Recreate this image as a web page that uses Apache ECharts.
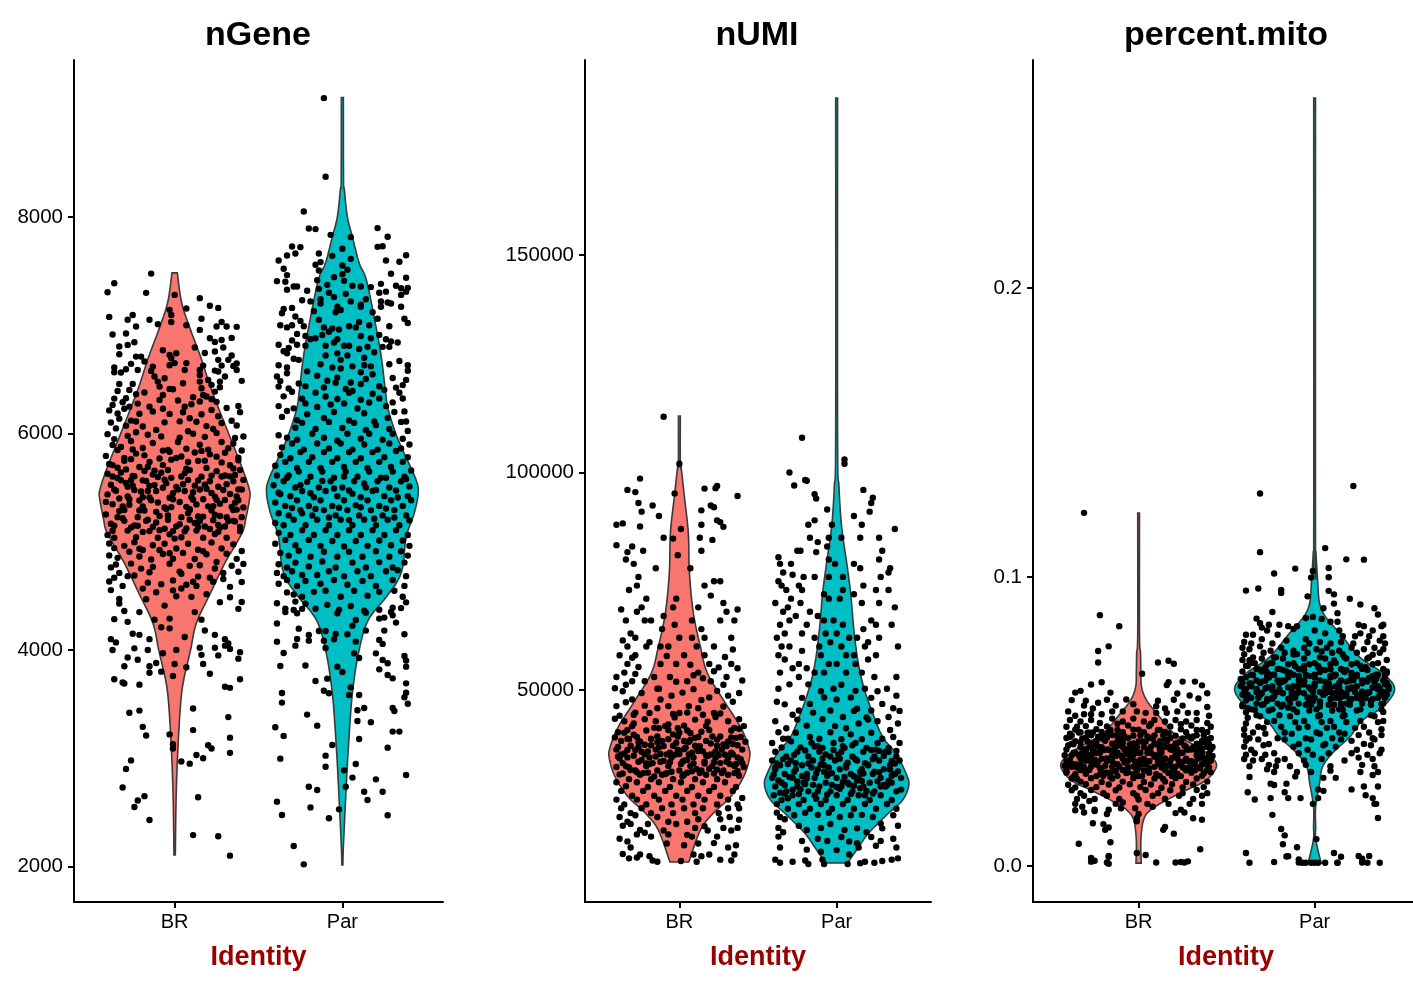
<!DOCTYPE html>
<html><head><meta charset="utf-8">
<style>html,body{margin:0;padding:0;background:#fff}#c{width:1413px;height:985px}</style>
<script src="https://cdn.jsdelivr.net/npm/echarts@6/dist/echarts.min.js"></script>
</head><body><div id="c"></div>
<script>
const categories = ['BR','Par'];
const panelTitles = ['nGene','nUMI','percent.mito'];
const nGeneTicks = [2000,4000,6000,8000];
const nUMITicks = [50000,100000,150000];
const mitoTicks = [0,0.1,0.2];

// violin outlines: [value, half width in category units]
const nGeneBRViolin = [[7484,.016],[7207,.042],[6957,.095],[6708,.155],[6403,.22],[6006,.32],[5692,.40],[5479,.446],[5387,.446],[5202,.423],[5109,.41],[4971,.363],[4804,.30],[4527,.214],[4250,.13],[4000,.095],[3723,.054],[3511,.036],[3104,.02],[2642,.009],[2106,.004]];
const nGeneParViolin = [[9103,.006],[8343,.007],[8251,.012],[8000,.03],[7816,.06],[7576,.10],[7419,.143],[7022,.196],[6708,.232],[6403,.256],[6218,.274],[5941,.333],[5590,.435],[5451,.452],[5266,.429],[5045,.381],[4713,.351],[4490,.262],[4278,.155],[4000,.10],[3603,.06],[3104,.036],[2642,.02],[2180,.006],[2014,.003]];
const nUMIBRViolin = [[112990,.006],[102190,.006],[101000,.012],[94370,.032],[86100,.057],[76900,.064],[67700,.089],[59890,.134],[53900,.178],[47700,.28],[41490,.389],[36900,.44],[34370,.446],[30000,.408],[25400,.325],[21720,.217],[17810,.134],[10460,.06]];
const nUMIParViolin = [[186100,.006],[108630,.006],[96670,.015],[87470,.032],[79200,.064],[72300,.089],[64480,.108],[56900,.134],[50690,.172],[44710,.229],[39200,.293],[35500,.376],[30920,.44],[28160,.459],[24710,.42],[21720,.331],[17120,.204],[13900,.14],[10230,.07]];
const mitoBRViolin = [[.1221,.005],[.0806,.005],[.0737,.011],[.0668,.013],[.0619,.017],[.0574,.045],[.0529,.102],[.046,.199],[.0426,.295],[.0391,.386],[.0349,.443],[.0298,.386],[.0263,.273],[.0228,.159],[.0194,.068],[.0159,.028],[.009,.013],[.001,.015]];
const mitoParViolin = [[.2657,.005],[.1118,.005],[.1069,.009],[.099,.017],[.091,.028],[.0862,.0625],[.0806,.142],[.0723,.256],[.0668,.386],[.0612,.455],[.055,.386],[.0505,.273],[.0446,.199],[.0391,.102],[.0343,.045],[.0287,.028],[.0204,.006],[.0135,.006],[.009,.007],[.001,.037]];

// jittered cells: [jitter in hundredths of a category, value]
const nGeneBRPoints = [[-14,7477],[-36,7388],[-40,7305],[-17,7299],[0,7280],[15,7250],[21,7180],[26,7160],[-3,7142],[7,7154],[-39,7077],[-25,7095],[-28,7050],[-15,7050],[-2,7095],[-2,7030],[-10,7010],[7,7000],[16,7060],[-23,6988],[28,7030],[25,6988],[31,6988],[37,6985],[15,6957],[-37,6914],[-29,6923],[34,6883],[21,6880],[24,6846],[28,6864],[-24,6843],[-33,6803],[-28,6818],[12,6794],[29,6794],[-7,6769],[1,6741],[-3,6726],[18,6744],[24,6757],[-33,6732],[-23,6710],[-20,6710],[34,6720],[32,6680],[26,6680],[-2,6695],[-18,6665],[-26,6643],[-3,6630],[0,6650],[7,6650],[17,6627],[28,6627],[35,6624],[37,6646],[-36,6609],[-36,6566],[-32,6563],[-29,6593],[-22,6587],[-13,6618],[-14,6578],[6,6587],[15,6587],[15,6541],[24,6581],[26,6572],[37,6587],[40,6486],[-12,6526],[-10,6479],[-6,6510],[-9,6433],[5,6464],[15,6479],[20,6495],[30,6526],[27,6479],[22,6449],[27,6427],[-33,6458],[-25,6458],[-34,6393],[-27,6402],[-3,6412],[-1,6408],[16,6418],[17,6356],[-18,6378],[-23,6362],[24,6387],[-7,6356],[-36,6322],[-29,6325],[-9,6310],[11,6335],[19,6341],[22,6316],[-31,6288],[-22,6276],[2,6304],[10,6270],[15,6295],[25,6292],[-37,6264],[-27,6248],[-15,6248],[6,6248],[38,6254],
[-39,6213],[-34,6184],[-30,6228],[-33,6137],[-38,6102],[-26,6119],[-21,6182],[-13,6203],[-7,6228],[-3,6181],[5,6196],[9,6141],[16,6177],[22,6218],[26,6159],[31,6236],[34,6118],[39,6197],[37,6073],[-35,6047],[-29,6072],[-23,6111],[-19,6064],[-11,6033],[-6,6103],[3,6112],[8,6021],[13,6109],[19,6068],[23,6042],[28,6097],[-40,5994],[-36,5948],[-28,5978],[-23,6012],[-16,5988],[-8,5973],[3,5962],[11,5998],[18,5969],[25,6004],[36,5958],[35,5908],[41,5972],[-37,5893],[-32,5876],[-26,5931],[-19,5866],[-13,5912],[-4,5847],[2,5921],[7,5859],[15,5896],[20,5851],[28,5921],[32,5863],[-41,5793],[-34,5847],[-30,5773],[-25,5853],[-18,5798],[-9,5769],[-3,5831],[4,5787],[12,5824],[18,5749],[21,5807],[30,5822],[38,5776],[40,5843],[-39,5718],[-34,5684],[-26,5763],[-21,5691],[-15,5737],[-7,5708],[-2,5758],[7,5674],[14,5747],[19,5682],[28,5733],[35,5677],[38,5752],[-40,5628],[-37,5603],[-29,5668],[-25,5607],[-18,5653],[-10,5598],[-4,5663],[4,5602],[9,5661],[16,5601],[25,5652],[30,5612],[39,5663],[-38,5527],[-32,5568],[-28,5508],[-19,5567],[-15,5516],[-6,5573],[1,5507],[8,5571],[12,5518],[21,5558],[26,5508],[35,5558],[41,5571],[-40,5437],[-36,5483],[-28,5418],[-24,5478],[-15,5408],[-11,5468],[-3,5406],[2,5483],[10,5412],[15,5483],[24,5417],[29,5478],[37,5418],[40,5483],[-37,5347],[-31,5327],[-27,5393],[-19,5327],[-14,5383],[-6,5317],[-1,5393],[7,5322],[11,5388],[20,5327],[25,5388],[34,5322],[38,5383],[-41,5252],[-34,5227],[-30,5293],[-22,5227],[-18,5288],[-9,5237],[-5,5303],[4,5227],[9,5293],[17,5232],[22,5288],[31,5227],[35,5293],[40,5227],[-36,5147],[-30,5193],[-26,5132],[-17,5193],[-13,5137],[-4,5203],[1,5142],[9,5203],[14,5137],[23,5198],[27,5132],[35,5193],[39,5137],[-40,5062],[-36,5037],[-28,5103],[-23,5042],[-15,5098],[-10,5037],[-1,5098],[4,5042],[13,5103],[17,5037],[26,5093],[31,5037],[39,5098],
[-24,5605],[-17,5561],[-13,5620],[-7,5498],[-1,5448],[5,5531],[11,5458],[17,5392],[23,5329],[28,5603],[33,5441],[-33,5399],[-27,5341],[-21,5289],[-16,5204],[-10,5363],[-4,5243],[3,5161],[9,5301],[14,5233],[21,5117],[27,5237],[32,5191],[37,5297],[-37,5101],[-31,5217],[-24,5150],[-19,5091],[-11,5177],[-6,5120],[0,5029],[7,5123],[12,5173],[18,5141],[24,5072],[30,5141],[36,5188],[-35,5471],[-25,5517],[-20,5464],[-12,5523],[-8,5637],[-2,5590],[6,5634],[14,5566],[22,5611],[31,5532],[36,5617],[-41,5368],[-30,5748],[-23,5814],[-16,5690],[-7,5842],[1,5773],[8,5736],[16,5839],[25,5786],[33,5707],[-32,5639],[-26,5569],[-19,5412],[-11,5276],[-2,5320],[6,5468],[13,5345],[19,5489],[26,5155],[36,5361],
[-38,5166],[-33,5283],[-29,5542],[-21,5381],[-16,5469],[-9,5107],[-5,5541],[3,5367],[8,5262],[15,5192],[22,5451],[27,5352],[33,5604],[38,5484],[-34,5589],[-22,5148],[-12,5655],[-3,5068],[6,5096],[18,5526],[24,5249],[30,5385],[41,5317],[-37,5708],
[-39,4983],[-36,4941],[-30,4962],[-24,4996],[-19,4923],[-13,4967],[-6,4982],[1,4938],[8,4981],[14,4926],[22,4994],[28,4938],[35,4976],[40,4914],[-39,4873],[-34,4851],[-27,4907],[-21,4863],[-14,4836],[-7,4887],[-1,4843],[5,4897],[12,4841],[19,4885],[25,4813],[31,4889],[37,4842],[41,4795],[-38,4763],[-33,4712],[-26,4798],[-20,4752],[-13,4768],[-3,4797],[3,4724],[9,4777],[15,4783],[24,4753],[29,4711],[34,4778],[38,4723],[-39,4633],[-36,4667],[-31,4592],[-24,4688],[-16,4622],[-8,4608],[-1,4643],[7,4602],[14,4678],[23,4631],[29,4656],[33,4583],[40,4628],[-38,4553],[-33,4472],[-19,4567],[-11,4533],[-1,4551],[1,4497],[10,4491],[19,4516],[27,4442],[33,4487],[40,4443],[-35,4790],[-28,4682],[-21,4935],[-15,4718],[-9,4923],[-3,4894],[4,4704],[11,4631],[17,4912],[21,4668],[-17,4468],[-6,4410],[4,4568],[13,4592],[-33,4430],[-36,4285],[-30,4360],[-28,4260],[-21,4350],[-12,4280],[-8,4210],[-3,4290],[-3,4200],[12,4350],[16,4280],[18,4180],[24,4140],[30,4100],[32,4060],[38,4380],[-38,4100],[-37,4000],[-35,4070],[-25,4150],[-21,4140],[-24,4015],[-15,4100],[-16,4000],[-7,3970],[1,4000],[6,4120],[16,3955],[15,4020],[24,4020],[26,3950],[30,4040],[33,4010],[38,3920],[39,3980],[-28,3930],[-30,3850],[-22,3910],[-15,3850],[-15,3790],[-11,3880],[-8,3800],[0,3870],[-1,3760],[7,3840],[17,3870],[21,3780],[30,3660],[33,3650],[39,3730],[-36,3730],[-31,3700],[-30,3690],[-21,3680],[-27,3420],[-21,3440],[-19,3290],[-17,3210],[-3,3220],[-1,3130],[-1,3090],[11,3460],[11,3260],[13,3030],[17,3000],[20,3120],[22,3090],[32,3380],[33,3190],[33,3050],[-26,2980],[-29,2900],[-31,2730],[-24,2550],[-22,2610],[-18,2650],[-15,2430],[4,2970],[9,2950],[14,2640],[11,2290],[26,2280],[33,2100]];

const nGeneParPoints = [[-11,9098],[-10,8371],[-23,8051],[-20,7894],[-16,7888],[-7,7835],[5,7814],[21,7897],[27,7817],[-30,7727],[-25,7721],[21,7724],[24,7730],[-33,7644],[-28,7663],[-14,7663],[0,7706],[-6,7641],[38,7647],[-38,7598],[26,7598],[34,7586],[5,7613],[-16,7558],[-13,7583],[0,7552],[-35,7521],[3,7512],[-14,7506],[-33,7463],[0,7472],[29,7475],[-5,7444],[38,7438],[-39,7407],[-34,7401],[-15,7416],[1,7410],[23,7382],[-29,7358],[-27,7358],[-9,7373],[6,7364],[11,7358],[17,7352],[32,7364],[35,7342],[39,7345],[-33,7327],[-21,7318],[-14,7336],[-8,7300],[22,7300],[26,7310],[35,7280],[38,7310],[-5,7260],[2,7290],[14,7240],[-24,7230],[-19,7220],[-13,7240],[-13,7200],[5,7220],[11,7190],[23,7220],[27,7210],[29,7200],[-30,7160],[-35,7150],[-17,7130],[-3,7170],[-4,7120],[-1,7140],[11,7170],[18,7120],[23,7170],[35,7170],[-36,7110],[-28,7080],[-25,7040],[-14,7050],[-6,6970],[10,7030],[16,7000],[21,7060],[37,7060],[39,7020],[-37,7000],[-33,6980],[-30,7000],[-23,6990],[-27,6920],[-11,6980],[-8,6940],[-2,6960],[4,6990],[8,6980],[28,6990],[-30,6860],[-22,6900],[-19,6870],[-16,6880],[-12,6910],[-5,6840],[-3,6870],[11,6900],[17,6880],[22,6910],[26,6870],[29,6850],[-38,6820],[-35,6760],[-32,6790],[-27,6820],[-22,6810],[-10,6810],[1,6810],[4,6810],[10,6780],[15,6800],[24,6800],[28,6800],[33,6840],[-33,6740],[-29,6690],[-10,6720],[-3,6740],[-1,6680],[3,6720],[13,6700],[19,6750],[34,6670],[-38,6630],[-33,6610],[-26,6680],[-13,6640],[-6,6610],[-1,6600],[6,6620],[13,6630],[17,6620],[28,6640],[39,6630],[39,6580],
[-39,6527],[-37,6484],[-33,6556],[-21,6574],[-15,6533],[-9,6488],[-3,6516],[5,6471],[11,6566],[14,6503],[18,6547],[30,6512],[38,6495],[-38,6433],[-32,6416],[-26,6462],[-22,6437],[-11,6425],[-4,6468],[2,6411],[6,6392],[11,6457],[22,6436],[25,6403],[32,6424],[36,6447],[-35,6343],[-30,6386],[-24,6321],[-16,6377],[-10,6342],[-3,6318],[4,6376],[11,6311],[18,6367],[22,6324],[34,6376],[36,6323],[-38,6253],[-29,6232],[-22,6278],[-15,6244],[-7,6267],[1,6278],[9,6231],[16,6286],[26,6253],[30,6287],[37,6204],[-36,6153],[-33,6208],[-27,6122],[-21,6177],[-11,6143],[-5,6198],[4,6121],[13,6187],[19,6111],[27,6143],[31,6198],[38,6111],[-28,6053],[-24,6098],[-16,6042],[-8,6107],[0,6051],[7,6098],[14,6033],[20,6077],[28,6042],[35,6107],[39,6023],[-38,5983],[-33,5961],[-27,5942],[-18,5997],[-11,5961],[-3,5933],[3,5997],[11,5951],[16,5998],[24,5942],[30,5997],[36,5951],[-36,5872],[-30,5908],[-23,5851],[-15,5908],[-8,5862],[-1,5908],[6,5851],[13,5898],[21,5851],[28,5908],[35,5862],[40,5898],[-37,5802],[-31,5771],[-25,5828],[-18,5781],[-11,5828],[-3,5771],[4,5828],[11,5771],[18,5828],[25,5781],[32,5838],[39,5781],[-40,5702],[-34,5738],[-27,5681],[-20,5738],[-13,5681],[-6,5738],[1,5691],[8,5738],[15,5681],[22,5738],[29,5691],[36,5738],[-39,5612],[-33,5591],[-26,5648],[-19,5601],[-12,5648],[-5,5591],[2,5648],[9,5601],[16,5648],[23,5591],[30,5648],[37,5601],[41,5658],[-41,5522],[-35,5558],[-28,5501],[-21,5553],[-14,5501],[-7,5558],[0,5501],[7,5558],[14,5501],[21,5558],[28,5501],[35,5558],[40,5511],[-38,5452],[-31,5421],[-24,5468],[-17,5411],[-10,5468],[-3,5421],[4,5473],[11,5411],[18,5468],[25,5421],[32,5473],[39,5421],[-40,5362],[-34,5331],[-27,5383],[-20,5331],[-13,5383],[-6,5331],[1,5383],[8,5336],[15,5383],[22,5331],[29,5383],[36,5331],[41,5383],
[-37,5441],[-32,5612],[-25,5523],[-19,5448],[-12,5562],[-5,5492],[1,5603],[6,5444],[13,5538],[20,5479],[26,5591],[33,5409],[38,5580],[-30,5311],[-24,5262],[-16,5302],[-8,5224],[-2,5314],[4,5201],[11,5318],[19,5213],[26,5307],[31,5224],[-38,5263],[-32,5243],[-25,5292],[-18,5243],[-11,5292],[-4,5243],[3,5292],[10,5243],[17,5292],[24,5243],[31,5292],[38,5243],[-40,5173],[-35,5152],[-29,5203],[-22,5152],[-15,5203],[-8,5152],[-1,5203],[6,5152],[13,5203],[20,5152],[27,5203],[34,5152],[40,5197],[-38,5082],[-31,5062],[-24,5107],[-17,5062],[-10,5107],[-3,5062],[4,5107],[11,5062],[18,5107],[25,5062],[32,5107],[39,5062],[-40,4982],[-34,5017],[-28,4967],[-20,5017],[-13,4962],[-6,5007],[1,4957],[8,5007],[15,4962],[22,5012],[29,4967],[36,5012],[40,4962],[-37,4897],[-32,4872],[-26,4917],[-19,4862],[-11,4907],[-3,4862],[4,4907],[12,4862],[20,4912],[28,4862],[35,4912],[39,4872],[-38,4792],[-33,4762],[-28,4807],[-20,4772],[-12,4817],[-4,4762],[6,4807],[14,4762],[22,4812],[30,4762],[37,4807],[-39,4712],[-35,4682],[-30,4727],[-24,4692],[-15,4692],[-8,4727],[1,4682],[9,4727],[17,4682],[26,4727],[33,4737],[38,4682],[-38,4612],[-33,4647],[-27,4592],[-22,4637],[-13,4612],[-5,4647],[3,4602],[12,4637],[20,4592],[30,4647],[37,4592],[-33,4532],[-29,4512],[-24,4492],[-17,4537],[-10,4547],[-1,4492],[7,4547],[15,4502],[22,4537],[31,4547],[36,4492],[-39,4432],[-34,4382],[-28,4447],[-22,4427],[-16,4382],[-9,4417],[-2,4372],[5,4407],[13,4362],[22,4372],[29,4352],[35,4387],
[-23,2020],[-29,2189],[27,2473],[-36,2476],[-8,2445],[-2,2528],[-19,2546],[-39,2599],[15,2614],[13,2691],[24,2691],[-15,2707],[-20,2737],[2,2737],[20,2805],[6,2821],[38,2845],[1,2888],[-10,2922],[8,2947],[-10,3024],[-37,2996],[27,3098],[-6,3122],[-35,3206],[10,3178],[-40,3286],[-15,3301],[17,3332],[9,3344],[30,3246],[34,3246],[-21,3403],[9,3443],[13,3464],[30,3464],[31,3437],[-36,3603],[-36,3514],[39,3504],[10,3584],[37,3563],[38,3606],[-8,3600],[-11,3624],[4,3584],[5,3655],[38,3692],[-16,3714],[-9,3735],[30,3738],[27,3769],[22,3821],[0,3797],[-3,3846],[-37,3852],[-22,3856],[27,3877],[38,3846],[38,3902],[37,3945],[24,3908],[10,3926],[7,3969],[20,3969],[-35,3972],[-10,4019],[-28,4040],[-39,4077],[8,4077],[24,4056],[22,4093],[-20,4086],[-27,4102],[-11,4086],[-5,4099],[-20,4139],[-4,4148],[3,4145],[37,4145],[-14,4176],[-10,4176],[14,4179],[25,4179],[-26,4197],[-39,4244],[32,4253],[6,4225],[8,4277],[25,4299],[22,4290],[30,4320],[-34,4350],[-29,4370],[-24,4380],[-27,4340],[-3,4340],[14,4345],[30,4390],[38,4440]];

const nUMIBRPoints = [[-10,112800],[0,102000],[-25,98600],[-33,96000],[-28,95500],[-3,95200],[16,96300],[24,96900],[23,96400],[37,94600],[-26,93000],[-24,91000],[-17,92400],[-13,90000],[14,91300],[20,92400],[22,92000],[-40,88000],[-36,88300],[-25,87600],[14,88000],[24,89000],[26,88600],[28,87500],[-10,85000],[1,87000],[-40,83300],[-30,83000],[-33,81700],[-23,82000],[-4,84800],[13,85000],[14,82000],[21,84500],[-1,81000],[-15,78000],[-29,79000],[-26,76000],[-34,80000],[-27,74000],[-32,73000],[7,78000],[22,75000],[26,75000],[-2,71000],[16,74000],[-24,69000],[-21,71000],[28,70000],[20,71700],[-37,68500],[-27,68000],[-10,67000],[-4,69000],[12,69000],[30,68000],[37,68500],[-34,66000],[-31,63000],[-22,66000],[-18,66000],[-11,64000],[-3,65000],[8,66000],[14,64000],[26,66000],[35,66000],[-33,60000],[-28,62000],[-19,61000],[-12,60000],[-7,60000],[0,62000],[8,62000],[16,62000],[22,60000],[33,62000],[-38,58000],[-33,56000],[-28,58000],[-21,60000],[-12,56000],[-2,56000],[3,58000],[11,60000],[16,58000],[19,56000],[33,56000],[-40,53000],[-35,54000],[-30,52000],[-22,52000],[-16,53000],[-6,53000],[5,52000],[12,54000],[20,52000],[30,53000],[37,55000],[-36,61400],[-30,57400],[-26,55300],[-8,57800],[7,55800],[15,52700],[25,55200],[29,57600],[34,59300],[-34,51200],[-28,53700],[-14,50300],[-2,51900],[9,53400],[22,54300],[28,51200],[40,52200],
[-41,50400],[-36,49700],[-30,47800],[-24,49300],[-13,50300],[-5,48700],[2,49400],[9,50200],[14,47700],[19,48300],[24,49800],[31,48700],[38,49300],[-40,46300],[-34,47200],[-28,44800],[-22,46400],[-14,45800],[-7,46300],[0,44700],[6,46300],[12,45800],[22,44700],[28,46200],[34,47300],[-41,43400],[-35,42800],[-29,42300],[-22,43300],[-15,42800],[-9,41700],[-3,43700],[3,41800],[10,43200],[17,41700],[23,43800],[31,42800],[38,43300],[41,41700],[-39,40300],[-33,40800],[-27,39200],[-21,40700],[-14,39300],[-7,40800],[-1,39300],[5,40700],[12,39200],[19,40800],[26,39300],[33,40700],[39,39200],[-37,38300],[-31,37200],[-25,38200],[-18,37300],[-11,38300],[-4,37200],[3,38300],[10,37200],[17,38300],[24,37200],[31,38200],[37,37300],[42,38100],[-40,36300],[-35,35400],[-28,36200],[-22,35200],[-15,36300],[-8,35200],[-1,36300],[6,35200],[13,36300],[20,35200],[27,36300],[34,35200],[40,36300],[-38,34300],[-33,34500],[-26,33500],[-19,34500],[-12,33500],[-5,34500],[2,33500],[9,34500],[16,33500],[23,34500],[30,33500],[37,34500],[-40,32300],[-34,32500],[-28,31500],[-21,32500],[-14,31500],[-7,32500],[0,31500],[7,32500],[14,31500],[21,32500],[28,31500],[35,32500],[41,32300],[-38,30600],[-32,29500],[-25,30500],[-18,29500],[-11,30500],[-4,29500],[3,30500],[10,29500],[17,30500],[24,29500],[31,30500],[38,30300],[-40,28800],[-34,27900],[-27,28800],[-20,27700],[-13,28800],[-6,27700],[1,28800],[8,27700],[15,28800],[22,27700],[29,28800],[36,27700],[-37,26800],[-30,25700],[-23,26800],[-16,25700],[-9,26800],[-2,25700],[5,26800],[12,25700],[19,26800],[26,25700],[34,26800],[40,25200],
[-38,44100],[-32,38700],[-26,36900],[-21,33100],[-16,41300],[-10,37100],[-6,33400],[-1,41200],[4,36800],[9,33100],[14,40400],[20,37700],[26,33200],[33,39100],[39,34100],[-36,30800],[-29,34900],[-23,30900],[-15,34700],[-9,30700],[-3,35100],[2,30200],[8,35600],[13,30900],[18,34800],[22,30800],[29,35100],[35,30900],[-33,38800],[-24,35800],[-17,33200],[-7,38700],[1,33000],[7,38600],[16,33100],[24,38600],[32,33000],[-39,36900],[-31,31600],[-20,31000],[-13,36800],[-5,31200],[5,31000],[11,36800],[22,33400],[36,33000],[-35,40200],[-29,44300],[-19,44700],[-12,47800],[-4,44500],[5,44800],[15,44300],[26,44600],[35,41300],
[-37,35200],[-30,41700],[-24,33900],[-18,38800],[-12,35300],[-7,42100],[-2,37900],[3,33800],[7,40100],[12,36000],[18,42700],[23,35900],[28,37500],[34,37600],[40,33200],[-41,39100],[-33,36200],[-27,31100],[-20,35900],[-14,38000],[-8,30900],[0,35300],[6,38100],[11,31800],[15,35900],[21,39300],[27,30900],[33,35600],[38,41100],[-36,33200],[-29,39700],[-22,37400],[-16,30100],[-10,33700],[-4,39800],[3,36400],[8,31300],[13,37100],[19,31900],[25,35000],[30,37100],[37,31400],[-39,34700],[-32,32200],[-26,38000],[-19,33000],[-13,41200],[-6,35600],[0,40200],[5,33900],[10,39000],[17,35000],[24,31700],[31,34400],[36,39000],
[-40,24800],[-35,23700],[-27,24800],[-21,23700],[-13,24800],[-5,23700],[2,24800],[9,23700],[16,24800],[24,23700],[31,24800],[37,23700],[-37,22800],[-31,21700],[-24,22800],[-18,21700],[-11,22800],[-4,21700],[3,22800],[10,21700],[15,22800],[25,21700],[31,22800],[38,22800],[-38,20800],[-33,19700],[-28,21200],[-20,19200],[-14,20800],[-7,19700],[-2,19200],[5,19700],[12,20300],[16,18700],[26,20300],[32,20800],[38,20200],[-36,18800],[-31,19200],[-25,17800],[-22,17200],[-10,17700],[-7,16800],[5,16700],[10,18300],[18,17700],[28,18300],[33,17700],[37,18300],[-38,15800],[-33,15200],[-27,16800],[-18,16300],[-8,14700],[3,14300],[8,16300],[12,14700],[22,14800],[24,16300],[31,13800],[36,14300],[-36,12300],[-31,13800],[-27,11500],[-32,11300],[-25,12200],[-19,11800],[-17,10800],[-14,10500],[1,10700],[9,12200],[11,10500],[14,11800],[19,12200],[26,11000],[33,10800],[35,12200]];

const nUMIParPoints = [[-22,108000],[5,102000],[5,103000],[-30,100000],[-20,98300],[-19,98100],[-27,97000],[-14,95000],[17,96000],[-13,94000],[23,94200],[22,93000],[21,91000],[-6,91500],[-14,89000],[11,90000],[-18,88000],[-17,85000],[15,85000],[16,88000],[27,85000],[37,87000],[-3,88000],[-5,85000],[-12,84000],[-6,83000],[3,85000],[-25,82000],[-13,81700],[29,82000],[-37,80500],[-23,82000],[-36,79000],[-34,77000],[-29,79000],[-5,80000],[-1,79000],[11,79000],[15,78000],[27,80000],[34,78000],[-28,76500],[-37,75000],[-21,76000],[-14,76000],[-5,76000],[4,76000],[4,73000],[28,76000],[33,77000],[-35,74000],[-32,73000],[-24,74000],[-29,71000],[-22,73000],[-8,72000],[2,71000],[17,74000],[25,73000],[33,73000],[-39,70000],[-34,68000],[-31,69000],[-23,70000],[-17,68000],[-12,67000],[-5,71000],[11,72000],[16,70000],[27,70000],[37,69000],[-36,65000],[-30,66000],[-26,67000],[-19,65000],[-8,66000],[-2,66000],[4,65000],[17,64000],[22,66000],[25,65000],[35,65000],[-38,62000],[-33,63000],[-22,63000],[-14,62000],[-7,63000],[0,63000],[8,62000],[13,62000],[20,61000],[27,62000],[-37,58000],[-35,60000],[-30,60000],[-22,59000],[-11,60000],[-4,61000],[3,60000],[11,58000],[18,60000],[25,58000],[39,60000],[-33,57000],[-24,56000],[-19,55000],[-10,58000],[-5,56000],[6,58000],[12,56000],[20,57000],[-36,54000],[-28,55000],[-24,53000],[-14,54000],[-8,54000],[0,56000],[6,54000],[16,54000],[24,53000],[38,53000],
[-37,50300],[-30,51300],[-18,51300],[-10,49700],[-2,50300],[3,51200],[12,49800],[18,50300],[26,49700],[32,50300],[38,48700],[-38,47300],[-33,46700],[-22,48200],[-17,46800],[-8,48300],[0,47800],[9,48300],[13,45700],[22,48200],[29,46800],[36,45800],[-28,44300],[-24,45300],[-15,44800],[-4,45300],[4,43800],[11,45200],[19,43700],[22,45300],[33,43800],[40,45200],[-39,42800],[-32,41200],[-25,43200],[-19,41800],[-9,43300],[-1,41700],[6,41200],[14,42300],[20,43200],[26,42800],[34,40800],[39,42300],[-37,40300],[-31,38800],[-26,40200],[-17,39200],[-11,38800],[-4,40300],[3,38700],[9,39800],[16,38700],[22,40200],[29,38800],[36,39200],[-41,37800],[-35,36800],[-29,38200],[-23,36800],[-16,37800],[-9,36700],[-2,37800],[5,36700],[12,37800],[19,36700],[26,37800],[33,36700],[40,37800],[-39,35800],[-32,34700],[-25,35800],[-18,34700],[-11,35800],[-4,34700],[3,35800],[10,34700],[17,35800],[24,34700],[31,35800],[38,34700],[-41,33800],[-36,32700],[-29,33800],[-22,32700],[-15,33800],[-8,32700],[-1,33800],[6,32700],[13,33800],[20,32700],[27,33800],[34,32700],[40,33800],[-39,31800],[-33,30700],[-26,31800],[-19,30700],[-12,31800],[-5,30700],[2,31800],[9,30700],[16,31800],[23,30700],[30,31800],[37,30700],[-41,29800],[-35,28700],[-28,29800],[-21,28700],[-14,29800],[-7,28700],[0,29800],[7,28700],[14,29800],[21,28700],[28,29800],[35,28700],[41,29800],[-39,27800],[-32,26700],[-25,27800],[-18,26700],[-11,27800],[-4,26700],[3,27800],[10,26700],[17,27800],[24,26700],[31,27800],[38,26700],[-40,25800],[-35,24700],[-28,25800],[-21,24700],[-14,25800],[-7,24700],[0,25800],[7,24700],[14,25800],[21,24700],[28,25800],[35,24700],[-38,23800],[-31,22700],[-24,23800],[-17,22700],[-10,23800],[-3,22700],[4,23800],[11,22700],[18,23800],[25,22700],[32,23800],[38,22700],
[-38,33100],[-33,28100],[-27,31200],[-20,36100],[-13,30800],[-6,26000],[2,34200],[8,28300],[15,31200],[22,36200],[27,31100],[32,28100],[39,31300],[-36,26400],[-30,30000],[-23,27200],[-16,32200],[-9,34200],[-3,28200],[5,30000],[12,34100],[19,26800],[26,29000],[33,35800],[-34,38800],[-26,33200],[-20,28400],[-12,37100],[-5,32200],[4,37100],[11,30200],[18,33200],[25,36300],[35,30300],[-31,25100],[-24,26100],[-13,25000],[-6,30300],[1,35100],[9,26100],[16,29100],[23,26200],[30,34900],[37,33100],
[-40,30600],[-34,34100],[-28,27100],[-22,30200],[-15,28200],[-10,32900],[-3,30900],[2,27300],[7,33300],[13,29200],[18,25800],[24,31200],[30,28200],[35,33700],[41,27100],[-37,29200],[-31,33000],[-25,29000],[-18,33100],[-12,26700],[-7,35200],[0,27700],[6,32200],[11,28000],[17,30800],[23,34100],[28,27800],[34,31700],[-39,32200],[-33,26200],[-27,35100],[-19,29700],[-14,37000],[-8,31200],[-2,36200],[4,28900],[10,37300],[15,27400],[20,32800],[27,36000],[33,29100],[38,36000],
[-38,21800],[-36,20800],[-33,20300],[-27,21200],[-20,21800],[-12,21300],[-5,21800],[2,20800],[9,21200],[16,21300],[23,20800],[28,19300],[36,21200],[-37,18300],[-34,17300],[-24,18800],[-19,17800],[-10,18300],[-4,19200],[5,17800],[13,18200],[19,17300],[29,18200],[39,18800],[-37,16300],[-22,15300],[-12,15800],[-6,15300],[3,16200],[8,15200],[13,14800],[22,16200],[28,15300],[36,15800],[-36,13800],[-19,13300],[-10,12800],[0,13200],[8,12200],[14,13800],[25,14200],[38,13800],[-39,11000],[-36,10300],[-28,10500],[-20,10800],[-18,10000],[-9,11000],[-8,10000],[7,10000],[15,10200],[18,10500],[24,10300],[29,10700],[35,11000],[39,11300]];

const mitoBRPoints = [[-31,.1222],[-22,.0868],[-11,.083],[-23,.0744],[-17,.076],[-23,.0704],[11,.0704],[17,.071],[20,.07],[2,.0665],[-27,.0628],[-21,.0636],[16,.0626],[17,.0636],[25,.0638],[32,.0638],[36,.0625],[-33,.0606],[-36,.06],[-16,.06],[22,.0597],[39,.0598],[29,.059],[-38,.0574],[-30,.0572],[-23,.0565],[-18,.0575],[-7,.0576],[11,.0572],[20,.0575],[34,.058],[-31,.0555],[-26,.0545],[-13,.0555],[-3,.056],[10,.0553],[15,.0545],[25,.0555],[39,.055],[-40,.0535],[-36,.052],[-31,.0525],[-27,.0525],[-21,.0525],[-15,.0535],[-9,.0535],[-1,.0535],[4,.053],[10,.053],[16,.053],[22,.0535],[28,.053],[33,.053],[40,.052],[-39,.0505],[-33,.05],[-27,.0505],[-22,.0495],[-15,.051],[-9,.05],[-3,.051],[3,.05],[9,.0505],[15,.05],[21,.0505],[27,.05],[33,.0505],[39,.0495],[-41,.0482],[-36,.0472],[-30,.0484],[-24,.0473],[-18,.0483],[-12,.0471],[-6,.0486],[0,.0472],[6,.0484],[12,.0471],[18,.0483],[24,.0473],[30,.0486],[36,.0471],[41,.0482],
[-39,.0458],[-33,.0463],[-27,.0452],[-21,.0464],[-15,.0453],[-9,.0463],[-3,.0451],[3,.0463],[9,.0452],[15,.0464],[21,.0451],[27,.0463],[33,.0452],[39,.0464],[-41,.0443],[-36,.0432],[-30,.0444],[-24,.0431],[-18,.0444],[-12,.0433],[-6,.0443],[0,.0431],[6,.0444],[12,.0432],[18,.0443],[24,.0431],[30,.0444],[36,.0433],[41,.0443],[-38,.0423],[-33,.0412],[-27,.0424],[-21,.0411],[-15,.0423],[-9,.0412],[-3,.0424],[3,.0411],[9,.0423],[15,.0412],[21,.0424],[27,.0411],[33,.0423],[39,.0412],[-41,.0403],[-36,.0392],[-30,.0404],[-24,.0391],[-18,.0403],[-12,.0392],[-6,.0404],[0,.0391],[6,.0403],[12,.0392],[18,.0404],[24,.0391],[30,.0403],[36,.0392],[41,.0404],[-38,.0383],[-33,.0372],[-27,.0384],[-21,.0371],[-15,.0383],[-9,.0372],[-3,.0384],[3,.0371],[9,.0383],[15,.0372],[21,.0384],[27,.0371],[33,.0383],[39,.0372],[-41,.0363],[-36,.0352],[-30,.0364],[-24,.0351],[-18,.0363],[-12,.0352],[-6,.0364],[0,.0351],[6,.0363],[12,.0352],[18,.0364],[24,.0351],[30,.0363],[36,.0352],[41,.0364],[-38,.0343],[-33,.0332],[-27,.0344],[-21,.0331],[-15,.0343],[-9,.0332],[-3,.0344],[3,.0331],[9,.0343],[15,.0332],[21,.0344],[27,.0331],[33,.0343],[39,.0332],[-41,.0323],[-36,.0312],[-30,.0324],[-24,.0311],[-18,.0323],[-12,.0312],[-6,.0324],[0,.0311],[6,.0323],[12,.0312],[18,.0324],[24,.0311],[30,.0323],[36,.0312],[41,.0324],[-38,.0303],[-33,.0292],[-27,.0304],[-21,.0291],[-15,.0303],[-9,.0292],[-3,.0304],[3,.0291],[9,.0303],[15,.0292],[21,.0304],[27,.0291],[33,.0303],[39,.0292],
[-39,.0447],[-34,.0383],[-28,.0412],[-23,.0361],[-19,.0433],[-13,.0381],[-7,.0322],[-1,.0412],[4,.0353],[10,.0421],[14,.0301],[19,.0374],[25,.0342],[31,.0411],[37,.0374],[40,.0422],[-40,.0351],[-35,.0301],[-29,.0374],[-25,.0422],[-20,.0312],[-14,.0352],[-8,.0402],[-2,.0362],[2,.0312],[7,.0391],[13,.0341],[16,.0431],[23,.0362],[28,.0402],[32,.0331],[38,.0354],[-37,.0392],[-31,.0342],[-26,.0462],[-22,.0392],[-16,.0323],[-10,.0441],[-4,.0372],[1,.0452],[5,.0392],[11,.0362],[17,.0322],[22,.0403],[26,.0363],[34,.0401],[42,.0381],[-42,.0383],[-37,.0352],[-32,.0441],[-28,.0332],[-17,.0402],[-11,.0343],[-5,.0421],[-1,.0331],[8,.0441],[13,.0393],[20,.0332],[29,.0341],[35,.0422],[40,.0342],[-38,.0452],[-30,.0393],[-23,.0413],[-16,.0471],[-10,.0382],[-3,.0472],[4,.0431],[11,.0471],[18,.0412],[25,.0441],[33,.0471],[-35,.0482],[-29,.0461],[-20,.0452],[-12,.0492],[-6,.0401],[7,.0492],[14,.0452],[24,.0491],[30,.0441],[37,.0452],
[-40,.0417],[-35,.0341],[-31,.0373],[-26,.0401],[-22,.0339],[-18,.0372],[-13,.0413],[-8,.0358],[-4,.0402],[1,.0368],[5,.0329],[10,.0381],[13,.0417],[18,.0347],[22,.0373],[26,.0417],[30,.0351],[35,.0378],[39,.0352],[42,.0412],[-42,.0347],[-37,.0421],[-33,.0352],[-29,.0431],[-24,.0361],[-20,.0401],[-15,.0363],[-11,.0418],[-6,.0342],[-2,.0391],[3,.0352],[7,.0412],[12,.0378],[16,.0348],[21,.0418],[25,.0392],[29,.0361],[34,.0372],[38,.0428],[-39,.0367],[-34,.0462],[-30,.0319],[-25,.0368],[-21,.0442],[-16,.0308],[-12,.0451],[-7,.0388],[-3,.0318],[2,.0431],[6,.0362],[10,.0318],[15,.0438],[19,.0402],[24,.0351],[28,.0448],[33,.0398],[37,.0321],[41,.0372],[-36,.0318],[-32,.0392],[-27,.0362],[-23,.0447],[-19,.0347],[-14,.0402],[-9,.0428],[-5,.0383],[0,.0342],[5,.0448],[9,.0378],[14,.0359],[19,.0311],[23,.0428],[27,.0339],[32,.0361],[36,.0408],[40,.0389],[-41,.0331],[-37,.0308],[-33,.0428],[-28,.0461],[-22,.0318],[-17,.0462],[-13,.0328],[-8,.0448],[-3,.0403],[1,.0392],[6,.0338],[12,.0408],[17,.0459],[22,.0319],[26,.0338],[31,.0448],[35,.0338],[39,.0438],
[-40,.0281],[-36,.0272],[-30,.0283],[-24,.0273],[-17,.0282],[-11,.0272],[-5,.0283],[1,.0273],[7,.0282],[13,.0271],[19,.0283],[25,.0272],[31,.0282],[37,.0273],[-38,.0262],[-33,.0252],[-27,.0263],[-20,.0252],[-13,.0262],[-3,.0252],[4,.0263],[11,.0252],[18,.0262],[25,.0252],[33,.0263],[39,.0252],[-35,.0232],[-31,.0243],[-25,.0232],[-18,.0243],[-11,.0232],[-1,.0243],[0,.023],[8,.0243],[15,.0232],[23,.0243],[31,.0232],[36,.0243],[-36,.0215],[-32,.0205],[-28,.0225],[-25,.0195],[-13,.0215],[-17,.0195],[-9,.022],[-2,.02],[8,.0205],[5,.0215],[17,.0215],[24,.0195],[29,.0215],[36,.0215],
[-36,.0193],[-31,.0185],[-25,.019],[-18,.018],[-10,.02],[0,.018],[-1,.0155],[-1,.0165],[21,.0183],[26,.0185],[31,.0165],[36,.016],[-26,.0148],[-20,.0145],[-19,.0125],[-17,.0133],[14,.0125],[15,.0135],[20,.0112],[-34,.0077],[-16,.0082],[-1,.0045],[4,.0038],[-27,.0028],[-17,.0035],[-27,.0015],[-25,.0018],[-18,.0012],[-17,.0032],[-17,.0008],[10,.0012],[21,.0012],[26,.0012],[28,.0016],[24,.0014],[35,.0058]];

const mitoParPoints = [[-31,.1289],[22,.1315],[-31,.1086],[6,.11],[18,.1061],[28,.106],[-11,.1029],[-1,.1021],[-2,.0998],[8,.1031],[8,.0999],[-23,.1012],[-19,.0955],[-39,.0953],[-32,.096],[-19,.0945],[8,.0952],[11,.094],[-4,.0933],[26,.0905],[11,.0908],[20,.0925],[-24,.0879],[34,.0892],[36,.087],[-33,.0856],[-31,.084],[5,.0892],[13,.0875],[13,.0845],[-5,.0858],[-1,.0862],[4,.0855],[9,.0845],[39,.0835],[-30,.0825],[-26,.0835],[-20,.0835],[-15,.083],[-10,.083],[14,.0815],[25,.0835],[28,.083],[33,.0815],[38,.083],[-39,.08],[-35,.08],[-27,.0815],[-21,.08],[-12,.082],[0,.0815],[6,.0805],[16,.0795],[23,.0795],[26,.0805],[31,.0795],[39,.0795],[-40,.0775],[-36,.077],[-30,.0785],[-24,.077],[-16,.078],[-5,.0785],[-3,.077],[3,.0775],[9,.077],[15,.0775],[22,.077],[30,.0775],[37,.078],[40,.077],[-41,.0755],[-37,.075],[-31,.076],[-25,.0745],[-19,.0755],[-12,.0745],[-6,.0755],[1,.075],[7,.0755],[14,.0745],[21,.0755],[28,.075],[34,.0755],[39,.075],[-40,.0733],[-35,.0722],[-29,.0738],[-23,.0722],[-17,.0738],[-10,.0733],[-4,.0738],[3,.0722],[10,.0738],[17,.0722],[24,.0738],[31,.0722],[37,.0738],
[-41,.0713],[-36,.0702],[-30,.0718],[-24,.0702],[-18,.0718],[-12,.0702],[-6,.0718],[0,.0702],[6,.0718],[12,.0702],[18,.0718],[24,.0702],[30,.0718],[36,.0702],[41,.0713],[-39,.0693],[-33,.0682],[-27,.0698],[-21,.0682],[-15,.0698],[-9,.0682],[-3,.0698],[3,.0682],[9,.0698],[15,.0682],[21,.0698],[27,.0682],[33,.0698],[39,.0682],[-41,.0673],[-36,.0662],[-30,.0678],[-24,.0662],[-18,.0678],[-12,.0662],[-6,.0678],[0,.0662],[6,.0678],[12,.0662],[18,.0678],[24,.0662],[30,.0678],[36,.0662],[41,.0673],[-39,.0653],[-33,.0642],[-27,.0658],[-21,.0642],[-15,.0658],[-9,.0642],[-3,.0658],[3,.0642],[9,.0658],[15,.0642],[21,.0658],[27,.0642],[33,.0658],[39,.0642],[-41,.0633],[-36,.0622],[-30,.0638],[-24,.0622],[-18,.0638],[-12,.0622],[-6,.0638],[0,.0622],[6,.0638],[12,.0622],[18,.0638],[24,.0622],[30,.0638],[36,.0622],[41,.0633],[-39,.0613],[-33,.0602],[-27,.0618],[-21,.0602],[-15,.0618],[-9,.0602],[-3,.0618],[3,.0602],[9,.0618],[15,.0602],[21,.0618],[27,.0602],[33,.0618],[39,.0602],[-41,.0593],[-36,.0582],[-30,.0598],[-24,.0582],[-18,.0598],[-12,.0582],[-6,.0598],[0,.0582],[6,.0598],[12,.0582],[18,.0598],[24,.0582],[30,.0598],[36,.0582],[41,.0593],[-39,.0573],[-33,.0562],[-27,.0578],[-21,.0562],[-15,.0578],[-9,.0562],[-3,.0578],[3,.0562],[9,.0578],[15,.0562],[21,.0578],[27,.0562],[33,.0578],[39,.0562],[-41,.0553],[-36,.0542],[-30,.0558],[-24,.0542],[-18,.0558],[-12,.0542],[-5,.0558],[1,.0542],[8,.0558],[14,.0542],[20,.0558],[26,.0542],[32,.0558],[38,.0542],
[-38,.0692],[-31,.0633],[-26,.0652],[-22,.0601],[-16,.0673],[-10,.0621],[-4,.0562],[0,.0652],[5,.0593],[11,.0661],[16,.0541],[19,.0614],[25,.0582],[31,.0651],[37,.0614],[40,.0662],[-40,.0591],[-34,.0541],[-28,.0614],[-23,.0662],[-19,.0552],[-13,.0592],[-7,.0642],[-1,.0602],[3,.0552],[8,.0631],[14,.0581],[17,.0671],[23,.0602],[28,.0642],[32,.0571],[38,.0594],[-37,.0632],[-32,.0582],[-25,.0702],[-20,.0632],[-14,.0563],[-8,.0681],[-2,.0612],[2,.0692],[7,.0632],[13,.0602],[18,.0562],[22,.0643],[27,.0603],[34,.0641],[42,.0621],[-42,.0623],[-38,.0592],[-32,.0681],[-27,.0572],[-17,.0642],[-11,.0583],[-5,.0661],[-1,.0571],[9,.0681],[14,.0633],[20,.0572],[29,.0581],[35,.0662],[40,.0582],[-37,.0712],[-30,.0673],[-22,.0722],[-12,.0732],[-6,.0692],[4,.0742],[11,.0712],[16,.0732],[26,.0692],[33,.0731],
[-42,.0647],[-37,.0581],[-33,.0613],[-28,.0641],[-24,.0579],[-20,.0612],[-15,.0653],[-10,.0598],[-6,.0642],[-1,.0608],[3,.0569],[8,.0621],[11,.0657],[16,.0587],[20,.0613],[24,.0657],[28,.0591],[33,.0618],[37,.0592],[40,.0652],[-40,.0607],[-35,.0661],[-31,.0592],[-27,.0671],[-22,.0601],[-18,.0641],[-13,.0603],[-9,.0658],[-4,.0582],[0,.0631],[5,.0592],[9,.0652],[14,.0618],[18,.0588],[23,.0658],[27,.0632],[31,.0601],[36,.0612],[41,.0668],[-38,.0547],[-34,.0702],[-29,.0559],[-24,.0608],[-20,.0682],[-15,.0548],[-11,.0691],[-6,.0628],[-2,.0558],[3,.0671],[7,.0602],[11,.0558],[16,.0678],[20,.0642],[25,.0591],[29,.0688],[34,.0638],[38,.0561],[42,.0612],[-41,.0558],[-36,.0632],[-32,.0602],[-28,.0687],[-23,.0587],[-19,.0642],[-14,.0668],[-9,.0623],[-3,.0582],[2,.0688],[6,.0618],[10,.0599],[15,.0551],[21,.0668],[26,.0579],[30,.0601],[35,.0648],[40,.0629],
[-39,.0532],[-33,.0522],[-26,.0538],[-20,.0522],[-10,.0533],[-3,.0538],[3,.0522],[10,.0538],[17,.0522],[24,.0538],[32,.0522],[39,.0533],[-38,.0513],[-31,.0518],[-23,.0502],[-14,.0518],[-6,.0502],[2,.0518],[9,.0502],[16,.0518],[26,.0502],[34,.0518],[39,.0502],[-39,.0493],[-32,.0482],[-27,.0498],[-19,.0482],[-11,.0498],[-4,.0482],[4,.0498],[11,.0482],[18,.0498],[28,.0482],[36,.0498],[-40,.0473],[-35,.0462],[-29,.0478],[-17,.0462],[-9,.0478],[1,.0462],[7,.0478],[14,.0462],[23,.0478],[31,.0462],[38,.0473],[-40,.0453],[-37,.0442],[-28,.0458],[-21,.0442],[-13,.0458],[-5,.0442],[3,.0458],[10,.0442],[17,.0458],[25,.0453],[33,.0442],[38,.0453],[-39,.0433],[-32,.0438],[-26,.0422],[-17,.0438],[-9,.0422],[-2,.0438],[6,.0422],[15,.0438],[21,.0433],[28,.0422],[34,.0438],[-40,.0413],[-36,.0402],[-29,.0418],[-12,.0413],[-4,.0402],[5,.0418],[12,.0413],[24,.0402],[32,.0418],[38,.0402],[-39,.0385],[-34,.039],[-28,.0385],[-23,.039],[-9,.039],[-1,.0385],[8,.039],[21,.039],[30,.0385],[37,.039],[-40,.037],[-35,.0365],[-30,.037],[-21,.0365],[-17,.037],[-6,.0365],[4,.037],[17,.0365],[25,.0375],[33,.037],[-37,.0345],[-26,.035],[-22,.0345],[-14,.0345],[-5,.035],[9,.0345],[27,.035],[34,.0345],[-37,.0308],[-27,.0335],[-23,.0325],[-10,.0325],[-2,.0325],[9,.033],[26,.0325],[33,.0315],[36,.0325],[-25,.0285],[-23,.028],[-16,.0285],[-11,.031],[5,.0305],[12,.0305],[21,.0265],[28,.0275],[36,.0275],[-38,.0255],[-34,.023],[-25,.0235],[-17,.0255],[-15,.0235],[-8,.0235],[2,.0265],[5,.026],[-1,.0215],[2,.0235],[29,.0245],[34,.0215],[33,.0235],[35,.0215],
[-24,.0177],[36,.0166],[-19,.0128],[-17,.0106],[-18,.0075],[-10,.0065],[1,.0093],[11,.0045],[-39,.0045],[-37,.0011],[-23,.0014],[-16,.0033],[-15,.0034],[-9,.0023],[-9,.0012],[-7,.0011],[-5,.0011],[-2,.0011],[0,.0011],[2,.0011],[6,.0011],[13,.0011],[15,.0032],[13,.0011],[25,.0035],[27,.0025],[27,.0012],[30,.0011],[31,.0035],[37,.0011]];

const panels = [
 {left:74,width:369,xMax:2.6,ticks:nGeneTicks,min:1672,max:9450,violins:[nGeneBRViolin,nGeneParViolin],points:[nGeneBRPoints,nGeneParPoints],fmt:v=>String(v),mid:258,namePad:0},
 {left:585,width:346,xMax:2.6,ticks:nUMITicks,min:1264,max:194828,violins:[nUMIBRViolin,nUMIParViolin],points:[nUMIBRPoints,nUMIParPoints],fmt:v=>String(v),mid:757,namePad:0},
 {left:1033,width:380,xMax:2.559,ticks:mitoTicks,min:-0.01246,max:0.2789,violins:[mitoBRViolin,mitoParViolin],points:[mitoBRPoints,mitoParPoints],fmt:v=>v.toFixed(1),mid:1226,namePad:6}
];
const colors = ['#F8766D','#00BFC4'];
const FONT = '"Liberation Sans", Helvetica, Arial, sans-serif';

// Catmull-Rom path smoothing of one side of an outline, in screen space
function smoothSide(pts){
  const out=[];
  for(let i=0;i<pts.length-1;i++){
    const p0=pts[Math.max(i-1,0)],p1=pts[i],p2=pts[i+1],p3=pts[Math.min(i+2,pts.length-1)];
    for(let k=0;k<8;k++){
      const t=k/8,t2=t*t,t3=t2*t;
      out.push([0,1].map(a=>0.5*(2*p1[a]+(p2[a]-p0[a])*t+(2*p0[a]-5*p1[a]+4*p2[a]-p3[a])*t2+(3*p1[a]-p0[a]-3*p2[a]+p3[a])*t3)));
    }
  }
  out.push(pts[pts.length-1]);
  return out;
}

const option = {animation:false,backgroundColor:'#fff',title:[],grid:[],xAxis:[],yAxis:[],series:[]};
panels.forEach((p,i)=>{
  option.title.push({text:panelTitles[i],left:p.mid-5,top:14,textAlign:'center',
    textStyle:{fontFamily:FONT,fontWeight:'bold',fontSize:34,color:'#000'}});
  option.grid.push({left:p.left,width:p.width,top:60,height:842});
  option.xAxis.push({type:'value',gridIndex:i,min:0.4,max:p.xMax,splitLine:{show:false},
    name:'Identity',nameLocation:'middle',nameGap:42,
    nameTextStyle:{fontFamily:FONT,fontWeight:'bold',fontSize:27,color:'#990000',padding:[0,0,0,p.namePad]},
    axisLine:{show:true,onZero:false,lineStyle:{color:'#000',width:2}},
    axisTick:{show:true,length:6,lineStyle:{color:'#000',width:2},customValues:[1,2]},
    axisLabel:{fontFamily:FONT,fontSize:20,color:'#000',margin:10,customValues:[1,2],formatter:v=>categories[Math.round(v)-1]}});
  option.yAxis.push({type:'value',gridIndex:i,min:p.min,max:p.max,splitLine:{show:false},
    axisLine:{show:true,onZero:false,lineStyle:{color:'#000',width:2}},
    axisTick:{show:true,length:6,lineStyle:{color:'#000',width:2},customValues:p.ticks},
    axisLabel:{fontFamily:FONT,fontSize:20.5,color:'#000',margin:11,customValues:p.ticks,formatter:p.fmt}});
  [0,1].forEach(c=>{
    const outline = p.violins[c];
    option.series.push({type:'custom',xAxisIndex:i,yAxisIndex:i,silent:true,z:2,clip:false,
      data:[[c+1,outline[0][0]]],
      renderItem:(params,api)=>{
        const right = smoothSide(outline.map(o=>api.coord([c+1+o[1],o[0]])));
        const cx = api.coord([c+1,outline[0][0]])[0];
        const left = right.slice().reverse().map(q=>[2*cx-q[0],q[1]]);
        return {type:'polygon',shape:{points:right.concat(left)},
          style:{fill:colors[c],stroke:'#3a3a3a',lineWidth:1.6}};
      }});
    option.series.push({type:'scatter',xAxisIndex:i,yAxisIndex:i,silent:true,z:3,symbolSize:6.4,
      itemStyle:{color:'#000',opacity:1},
      data:p.points[c].map(d=>[c+1+d[0]/100,d[1]])});
  });
});
const chart = echarts.init(document.getElementById('c'),null,{renderer:'canvas'});
chart.setOption(option);
</script></body></html>
